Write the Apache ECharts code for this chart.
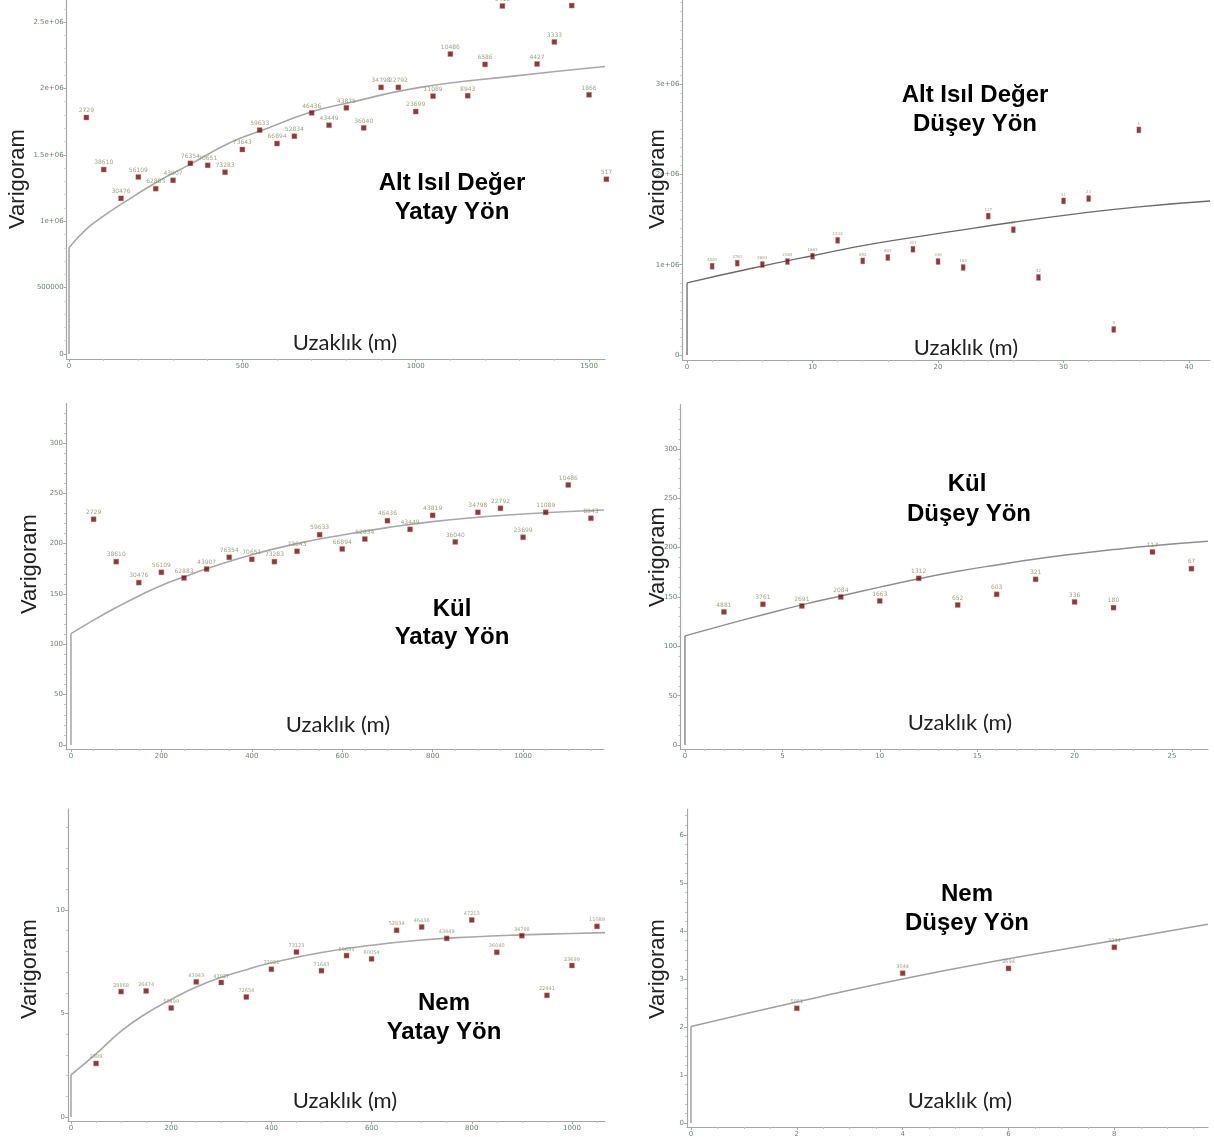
<!DOCTYPE html>
<html><head><meta charset="utf-8">
<script src="https://cdn.jsdelivr.net/npm/echarts@6/dist/echarts.min.js"></script>
<style>html,body{margin:0;padding:0;background:#fff}#c{width:1214px;height:1137px}</style>
</head><body><div id="c"></div>
<script>
// ---------- Panel 1: Alt Isıl Değer – Yatay Yön ----------
const p1Lags  = [50,100,150,200,250,300,350,400,450,500,550,600,650,700,750,800,850,900,950,1000,1050,1100,1150,1200,1250,1350,1400,1450,1500,1550];
const p1Gamma = [1781000,1389000,1172000,1333000,1245000,1308000,1436000,1421000,1369000,1540000,1686000,1585000,1640000,1816000,1723000,1854000,1703000,2008000,2008000,1826000,1942000,2259000,1945000,2181000,2621000,2184000,2350000,2624000,1952000,1316000];
const p1Pairs = ['2729','38610','30476','56109','62883','43907','76354','70651','73283','73643','59633','66894','52834','46436','43449','43875','36040','34798','22792','23699','11089','10486','8943','6586','6413','4427','3333','2612','1866','517'];
const p1CurveX = [0,50,100,152,250,349,464,551,700,801,1012,1282,1546];
const p1CurveY = [800000,940000,1040000,1130000,1290000,1428000,1591000,1679000,1824000,1888000,2008000,2093000,2165000];
const p1XTicks = [0,500,1000,1500];
const p1XTickLabels = ['0','500','1000','1500'];
const p1YTicks = [0,500000,1000000,1500000,2000000,2500000];
const p1YTickLabels = ['0','500000','1e+06','1.5e+06','2e+06','2.5e+06'];

// ---------- Panel 2: Alt Isıl Değer – Düşey Yön ----------
const p2Lags  = [2,4,6,8,10,12,14,16,18,20,22,24,26,28,30,32,34,36];
const p2Gamma = [983000,1017000,1002000,1035000,1094000,1270000,1042000,1079000,1171000,1035000,969000,1538000,1387000,859000,1706000,1732000,283000,2492000];
const p2Pairs = ['4881','3761','2691','2084','1663','1312','652','603','321','336','180','117','67','42','31','21','9','1'];
const p2CurveX = [0,5,10,15,21,26,31.3,36,41.67];
const p2CurveY = [800000,955000,1099000,1235000,1365000,1470000,1568000,1641000,1705000];
const p2XTicks = [0,10,20,30,40];
const p2XTickLabels = ['0','10','20','30','40'];
const p2YTicks = [0,1000000,2000000,3000000];
const p2YTickLabels = ['0','1e+06','2e+06','3e+06'];

// ---------- Panel 3: Kül – Yatay Yön ----------
const p3Lags  = [50,100,150,200,250,300,350,400,450,500,550,600,650,700,750,800,850,900,950,1000,1050,1100,1150];
const p3Gamma = [224.2,182.1,161.3,171.5,165.9,174.8,186.4,184.4,182.1,192.4,208.9,194.7,204.6,222.8,214.2,228.1,201.7,231.1,235.1,206.3,231.1,258.3,225.2];
const p3Pairs = ['2729','38610','30476','56109','62883','43907','76354','70651','73283','73643','59633','66894','52834','46436','43449','43819','36040','34798','22792','23699','11089','10486','8943'];
const p3CurveX = [0,50,100,150,200,250,300,400,500,600,700,800,900,1000,1179];
const p3CurveY = [110.6,124,136.5,148,158.5,167,175,189,200,208.6,215.9,221.9,226.2,229.5,233.4];
const p3XTicks = [0,200,400,600,800,1000];
const p3XTickLabels = ['0','200','400','600','800','1000'];
const p3YTicks = [0,50,100,150,200,250,300];
const p3YTickLabels = ['0','50','100','150','200','250','300'];

// ---------- Panel 4: Kül – Düşey Yön ----------
const p4Lags  = [2,4,6,8,10,12,14,16,18,20,22,24,26];
const p4Gamma = [134.9,142.6,140.9,150.0,146.0,168.9,141.9,152.7,167.9,145.0,139.2,195.6,178.7];
const p4Pairs = ['4881','3761','2691','2084','1663','1312','652','603','321','336','180','117','67'];
const p4CurveX = [0,2,4,6,8,10,12,14,16,18,20,22,24,26.85];
const p4CurveY = [110.6,121.5,132,142,151,160,168.5,176,182.5,188.5,193.5,198,202,206.5];
const p4XTicks = [0,5,10,15,20,25];
const p4XTickLabels = ['0','5','10','15','20','25'];
const p4YTicks = [0,50,100,150,200,250,300];
const p4YTickLabels = ['0','50','100','150','200','250','300'];

// ---------- Panel 5: Nem – Yatay Yön ----------
const p5Lags  = [50,100,150,200,250,300,350,400,450,500,550,600,650,700,750,800,850,900,950,1000,1050];
const p5Gamma = [2.59,6.06,6.09,5.27,6.53,6.50,5.80,7.14,7.97,7.07,7.80,7.64,9.02,9.18,8.63,9.52,7.96,8.76,5.88,7.32,9.21];
const p5Pairs = ['2389','28868','26474','50499','43943','41027','72654','72021','73123','71643','59633','60054','52834','46436','43449','47213','36040','34798','22441','23699','11089'];
const p5CurveX = [0,50,100,150,200,250,300,350,400,500,600,700,800,900,1000,1066];
const p5CurveY = [2.04,3.05,4.15,5.0,5.68,6.28,6.75,7.12,7.45,7.95,8.3,8.55,8.7,8.8,8.87,8.91];
const p5XTicks = [0,200,400,600,800,1000];
const p5XTickLabels = ['0','200','400','600','800','1000'];
const p5YTicks = [0,5,10];
const p5YTickLabels = ['0','5','10'];

// ---------- Panel 6: Nem – Düşey Yön ----------
const p6Lags  = [2,4,6,8];
const p6Gamma = [2.39,3.12,3.22,3.66];
const p6Pairs = ['5851','3044','2694','2244'];
const p6CurveX = [0,2,4,6,8,9.77];
const p6CurveY = [2.01,2.52,3.0,3.42,3.80,4.14];
const p6XTicks = [0,2,4,6,8];
const p6XTickLabels = ['0','2','4','6','8'];
const p6YTicks = [0,1,2,3,4,5,6];
const p6YTickLabels = ['0','1','2','3','4','5','6'];

// ---------- text ----------
const titleLines = [
  ['Alt Isıl Değer','Yatay Yön'],
  ['Alt Isıl Değer','Düşey Yön'],
  ['Kül','Yatay Yön'],
  ['Kül','Düşey Yön'],
  ['Nem','Yatay Yön'],
  ['Nem','Düşey Yön']
];
const yName = 'Varigoram';
const xName = 'Uzaklık (m)';

function minorTicks(min, max, step, majors) {
  const out = [];
  const n = Math.round((max - min) / step);
  for (let k = 0; k <= n; k++) {
    const v = +(min + k * step).toFixed(6);
    if (majors.indexOf(v) < 0) out.push(v);
  }
  return out;
}

// layout (pixel bounds of each plot and axis ranges)
const panels = [
  {lags:p1Lags,gamma:p1Gamma,pairs:p1Pairs,cx:p1CurveX,cy:p1CurveY,xt:p1XTicks,xtl:p1XTickLabels,yt:p1YTicks,ytl:p1YTickLabels,
   L:66.6,R:605,T:0,B:358.9,xMin:-7,xMax:1546,yMin:-37000,yMax:2666000,xMinorStep:100,yMinorStep:100000,
   sym:[5,5],lab:6,lineColor:'#a8a8a8',lineW:1.6,
   title:[[452,183],[452,212]],yLab:[18,179],xLab:[345,343]},
  {lags:p2Lags,gamma:p2Gamma,pairs:p2Pairs,cx:p2CurveX,cy:p2CurveY,xt:p2XTicks,xtl:p2XTickLabels,yt:p2YTicks,ytl:p2YTickLabels,
   L:682.4,R:1210,T:0,B:360,xMin:-0.37,xMax:41.67,yMin:-55000,yMax:3930000,xMinorStep:2,yMinorStep:100000,
   sym:[4,6],lab:4,lineColor:'#6a6a6a',lineW:1.3,
   title:[[975,95],[975,124]],yLab:[658,179],xLab:[966,348]},
  {lags:p3Lags,gamma:p3Gamma,pairs:p3Pairs,cx:p3CurveX,cy:p3CurveY,xt:p3XTicks,xtl:p3XTickLabels,yt:p3YTicks,ytl:p3YTickLabels,
   L:66,R:604,T:403.7,B:749,xMin:-11,xMax:1179,yMin:-4,yMax:339,xMinorStep:50,yMinorStep:10,
   sym:[5,5],lab:6,lineColor:'#a8a8a8',lineW:1.6,
   title:[[452,609],[452,637]],yLab:[30,564],xLab:[338,725]},
  {lags:p4Lags,gamma:p4Gamma,pairs:p4Pairs,cx:p4CurveX,cy:p4CurveY,xt:p4XTicks,xtl:p4XTickLabels,yt:p4YTicks,ytl:p4YTickLabels,
   L:680.3,R:1208,T:404.5,B:749,xMin:-0.24,xMax:26.85,yMin:-4,yMax:345,xMinorStep:1,yMinorStep:10,
   sym:[5,5],lab:6,lineColor:'#8e8e8e',lineW:1.5,
   title:[[967,484],[969,514]],yLab:[658,557],xLab:[960,723]},
  {lags:p5Lags,gamma:p5Gamma,pairs:p5Pairs,cx:p5CurveX,cy:p5CurveY,xt:p5XTicks,xtl:p5XTickLabels,yt:p5YTicks,ytl:p5YTickLabels,
   L:68,R:605,T:809,B:1121,xMin:-6,xMax:1066,yMin:-0.19,yMax:14.88,xMinorStep:50,yMinorStep:1,
   sym:[5,5],lab:5,lineColor:'#a8a8a8',lineW:1.6,
   title:[[444,1003],[444,1032]],yLab:[30,969],xLab:[345,1101]},
  {lags:p6Lags,gamma:p6Gamma,pairs:p6Pairs,cx:p6CurveX,cy:p6CurveY,xt:p6XTicks,xtl:p6XTickLabels,yt:p6YTicks,ytl:p6YTickLabels,
   L:687,R:1208,T:809,B:1127,xMin:-0.075,xMax:9.77,yMin:-0.083,yMax:6.54,xMinorStep:0.5,yMinorStep:0.2,
   sym:[5,5],lab:5,lineColor:'#a0a0a0',lineW:1.5,
   title:[[967,894],[967,923]],yLab:[658,969],xLab:[960,1101]}
];

const axisColor = '#a6a6a6';
const tickLabelColor = '#6f8474';
const option = {animation:false, backgroundColor:'#fff', grid:[], xAxis:[], yAxis:[], series:[], graphic:[]};

panels.forEach((p, i) => {
  option.grid.push({left:p.L, top:p.T, width:p.R - p.L, height:p.B - p.T, outerBoundsMode:'none', containLabel:false});
  const xMinor = minorTicks(0, Math.floor(p.xMax / p.xMinorStep) * p.xMinorStep, p.xMinorStep, p.xt);
  const yMinor = minorTicks(0, Math.floor(p.yMax / p.yMinorStep) * p.yMinorStep, p.yMinorStep, p.yt);
  // main axes
  option.xAxis.push({type:'value', gridIndex:i, min:p.xMin, max:p.xMax, position:'bottom',
    splitLine:{show:false},
    axisLine:{show:true, onZero:false, lineStyle:{color:axisColor, width:1.2}},
    axisTick:{show:true, customValues:p.xt, length:3, lineStyle:{color:axisColor}},
    axisLabel:{show:true, customValues:p.xt, margin:4, fontSize:7, color:tickLabelColor, fontFamily:'DejaVu Sans',
      formatter:(v)=>{const k=p.xt.indexOf(v); return k>=0?p.xtl[k]:'';}}});
  option.yAxis.push({type:'value', gridIndex:i, min:p.yMin, max:p.yMax, position:'left',
    splitLine:{show:false},
    axisLine:{show:true, onZero:false, lineStyle:{color:axisColor, width:1.2}},
    axisTick:{show:true, customValues:p.yt, length:3, lineStyle:{color:axisColor}},
    axisLabel:{show:true, customValues:p.yt, margin:3, fontSize:7, color:tickLabelColor, fontFamily:'DejaVu Sans',
      formatter:(v)=>{const k=p.yt.indexOf(v); return k>=0?p.ytl[k]:'';}}});
  // minor tick axes
  option.xAxis.push({type:'value', gridIndex:i, min:p.xMin, max:p.xMax, position:'bottom',
    splitLine:{show:false}, axisLine:{show:false, onZero:false},
    axisTick:{show:true, customValues:xMinor, length:2, lineStyle:{color:'#c4c4c4'}},
    axisLabel:{show:false}});
  option.yAxis.push({type:'value', gridIndex:i, min:p.yMin, max:p.yMax, position:'left',
    splitLine:{show:false}, axisLine:{show:false, onZero:false},
    axisTick:{show:true, customValues:yMinor, length:2, lineStyle:{color:'#c4c4c4'}},
    axisLabel:{show:false}});

  const xi = 2 * i, yi = 2 * i;
  // nugget jump
  option.series.push({type:'line', xAxisIndex:xi, yAxisIndex:yi, silent:true, showSymbol:false,
    data:[[p.cx[0],0],[p.cx[0],p.cy[0]]], lineStyle:{color:p.lineColor, width:p.lineW}});
  // model curve
  option.series.push({type:'line', xAxisIndex:xi, yAxisIndex:yi, silent:true, showSymbol:false,
    smooth:0.5,
    data:p.cx.map((x,k)=>[x,p.cy[k]]), lineStyle:{color:p.lineColor, width:p.lineW}});
  // experimental variogram points
  option.series.push({type:'scatter', xAxisIndex:xi, yAxisIndex:yi, clip:false,
    symbol:'rect', symbolSize:p.sym,
    itemStyle:{color:'#6e0a0a', borderColor:'#b98888', borderWidth:0.5},
    label:{show:true, position:'top', distance:1, fontSize:p.lab, color:'#8b8b6a', fontFamily:'DejaVu Sans',
      formatter:(d)=>p.pairs[d.dataIndex]},
    data:p.lags.map((x,k)=>[x,p.gamma[k]]), z:5});

  // texts
  p.title.forEach((pos, k) => {
    option.graphic.push({type:'text', x:pos[0], y:pos[1], z:100,
      style:{text:titleLines[i][k], font:"bold 24px 'Liberation Sans'", fill:'#000',
        textAlign:'center', textVerticalAlign:'middle', align:'center', verticalAlign:'middle'}});
  });
  option.graphic.push({type:'text', x:p.yLab[0], y:p.yLab[1], rotation:Math.PI/2, z:100,
    style:{text:yName, font:"22px 'Liberation Sans'", fill:'#222',
      textAlign:'center', textVerticalAlign:'middle', align:'center', verticalAlign:'middle'}});
  option.graphic.push({type:'text', x:p.xLab[0], y:p.xLab[1], z:100,
    style:{text:xName, font:"22px Lato", fill:'#222',
      textAlign:'center', textVerticalAlign:'middle', align:'center', verticalAlign:'middle'}});
});

const chart = echarts.init(document.getElementById('c'), null, {renderer:'canvas'});
chart.setOption(option);
</script>
</body></html>
